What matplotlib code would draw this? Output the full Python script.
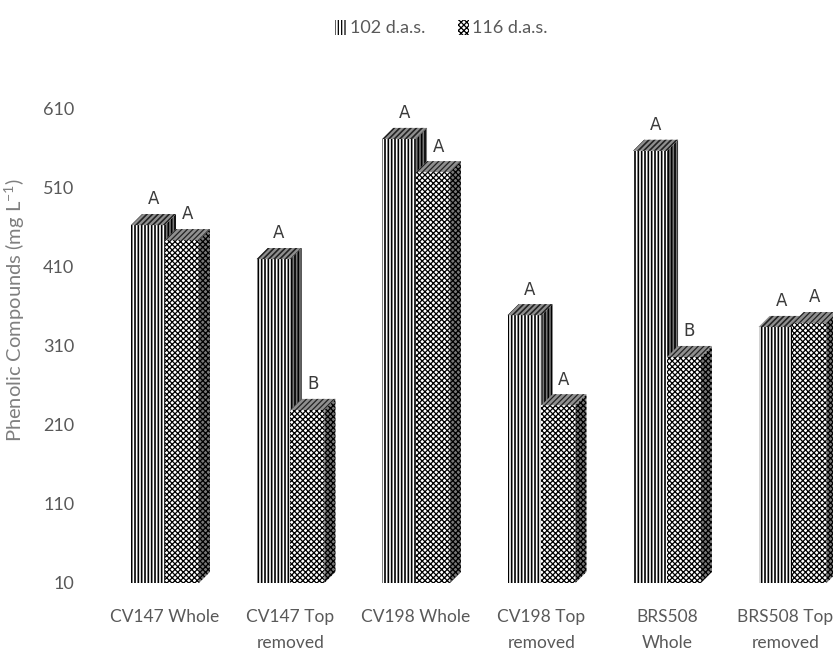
import numpy as np
import matplotlib.pyplot as plt
import matplotlib.transforms as mtransforms
from matplotlib.patches import Polygon, Patch

# phenolic compounds per treatment, two sampling dates
categories = ['CV147 Whole', 'CV147 Top\nremoved', 'CV198 Whole',
              'CV198 Top\nremoved', 'BRS508\nWhole', 'BRS508 Top\nremoved']
das_102 = [463, 420, 572, 349, 557, 334]
das_116 = [444, 229, 530, 235, 296, 339]
letters_102 = ['A', 'A', 'A', 'A', 'A', 'A']
letters_116 = ['A', 'B', 'A', 'A', 'B', 'A']
yticks = [10, 110, 210, 310, 410, 510, 610]
base = 10

plt.rcParams['font.family'] = ['Lato', 'DejaVu Sans']

fig = plt.figure(figsize=(8.33, 6.64), dpi=100)
ax = fig.add_axes([0.1227, 0.122, 0.904, 0.821])
ax.set_xlim(-0.5, 5.5)
ax.set_ylim(base, 700)

w = 0.27
dx = 0.088   # depth of the fake 3d box, x data units
dy = 14      # depth, y data units
x = np.arange(len(categories))

stripes = '|||||'
checks = 'xxxxxx'


def box(xc, val, hatch, side_col, top_col):
    x0, x1 = xc - w / 2, xc + w / 2
    ax.bar(xc, val - base, w, bottom=base, color='white', edgecolor='black',
           hatch=hatch, linewidth=0)
    side = Polygon([(x1, base), (x1 + dx, base + dy), (x1 + dx, val + dy), (x1, val)],
                   closed=True, facecolor=side_col, edgecolor='black',
                   hatch=hatch, linewidth=0)
    top = Polygon([(x0, val), (x1, val), (x1 + dx, val + dy), (x0 + dx, val + dy)],
                  closed=True, facecolor=top_col, edgecolor='#222222',
                  hatch='//////', linewidth=0)
    ax.add_patch(side)
    ax.add_patch(top)


plt.rcParams['hatch.linewidth'] = 1.2
for i in range(len(categories)):
    box(x[i] - w / 2, das_102[i], stripes, '#777777', '#8f8f8f')
plt.rcParams['hatch.linewidth'] = 0.9
for i in range(len(categories)):
    box(x[i] + w / 2, das_116[i], checks, '#777777', '#8f8f8f')

# significance letters
for i in range(len(categories)):
    ax.annotate(letters_102[i], (x[i] - w / 2 + dx / 2, das_102[i] + dy),
                xytext=(0, 4), textcoords='offset points', ha='center', va='bottom',
                fontsize=12, color='#3a3a3a', family='DejaVu Sans')
    ax.annotate(letters_116[i], (x[i] + w / 2 + dx / 2, das_116[i] + dy),
                xytext=(0, 4), textcoords='offset points', ha='center', va='bottom',
                fontsize=12, color='#3a3a3a', family='DejaVu Sans')

ax.set_xticks(x)
ax.set_xticklabels(categories, fontsize=12.5, color='#595959', linespacing=1.75)
ax.set_yticks(yticks)
ax.set_yticklabels([str(t) for t in yticks], fontsize=13, color='#595959')
ax.tick_params(axis='both', length=0)
ax.tick_params(axis='x', pad=19)
ax.tick_params(axis='y', pad=20)
for s in ax.spines.values():
    s.set_visible(False)

# last label sits against the right edge, nudge it inward
last = ax.get_xticklabels()[-1]
last.set_transform(last.get_transform() +
                   mtransforms.ScaledTranslation(-0.07, 0, fig.dpi_scale_trans))

ax.set_ylabel(r'Phenolic Compounds (mg L$^{\mathregular{-1}}$)', fontsize=14.5,
              color='#7f7f7f', labelpad=12)

handles = [Patch(facecolor='white', edgecolor='black', hatch=stripes, linewidth=0),
           Patch(facecolor='white', edgecolor='black', hatch=checks, linewidth=0)]
fig.legend(handles, ['102 d.a.s.', '116 d.a.s.'], loc='upper center',
           bbox_to_anchor=(0.53, 0.995), ncol=2, frameon=False, fontsize=13,
           handlelength=0.6, handleheight=0.9, handletextpad=0.2, columnspacing=1.8,
           labelcolor='#595959')

fig.savefig('out.png', dpi=100)
